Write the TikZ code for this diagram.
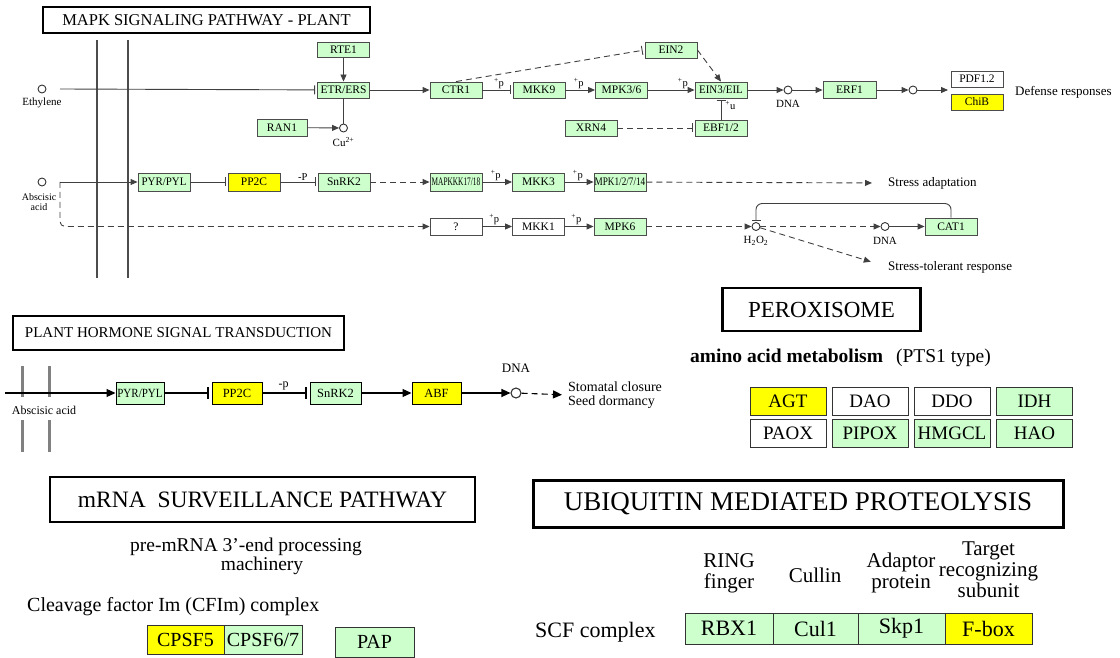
\documentclass[tikz,border=0pt]{standalone}
\usepackage{fontspec}
\setmainfont{Liberation Serif}
\usetikzlibrary{arrows.meta,calc}
\definecolor{kgreen}{HTML}{CCFFCC}
\definecolor{kyellow}{HTML}{FFFF00}
\newcommand{\kfs}[1]{\fontsize{#1}{#1}\selectfont}
\begin{document}
\begin{tikzpicture}[x=1pt,y=-1pt,
  ln/.style={draw=black!75, line width=0.9pt},
  arr/.style={ln, -{Triangle[length=7pt,width=6pt]}},
  inh/.style={ln, -{Bar[width=9pt,line width=0.9pt]}, shorten >=2pt},
  dln/.style={ln, dash pattern=on 6pt off 4pt},
  darr/.style={dln, -{Triangle[length=7pt,width=6pt]}},
  dinh/.style={dln, -{Bar[width=9pt,line width=0.9pt]}, shorten >=2pt},
  kb/.style={draw=black!70, line width=0.9pt, minimum width=52pt, minimum height=16pt, inner sep=0pt, font=\kfs{11.5}},
  kg/.style={kb, fill=kgreen},
  ky/.style={kb, fill=kyellow},
  kw/.style={kb, fill=white},
  circ/.style={circle, draw=black!80, line width=0.9pt, minimum size=8pt, inner sep=0pt},
  lbl/.style={font=\kfs{10.5}, inner sep=1pt},
  txt/.style={font=\kfs{11}, inner sep=0pt},
  side/.style={font=\kfs{13}, inner sep=0pt, anchor=west},
  ttl/.style={draw=black, line width=2pt, inner sep=0pt},
  pb/.style={draw=black, line width=1pt, minimum width=48pt, minimum height=22pt, inner sep=0pt, font=\kfs{12.5}},
  pln/.style={draw=black, line width=1.1pt},
  parr/.style={pln, -{Triangle[length=9pt,width=8pt]}},
  pinh/.style={pln, -{Bar[width=12pt,line width=1.1pt]}, shorten >=3pt},
  xb/.style={draw=black!80, line width=1pt, minimum width=76pt, minimum height=28pt, inner sep=0pt, font=\kfs{19}},
  ub/.style={draw=black!80, line width=1pt, minimum height=31pt, inner sep=0pt, font=\kfs{22}},
  hdr/.style={font=\kfs{21}, align=center, inner sep=0pt}
]
\useasboundingbox (0,0) rectangle (1120,658);

% ===== MAPK signaling pathway - plant =====
\node[ttl, minimum width=327pt, minimum height=26pt, font=\kfs{16.5}] (t1) at (206.5,20) {MAPK SIGNALING PATHWAY - PLANT};
\draw[line width=2.5pt, black!70] (97,40) -- (97,278);
\draw[line width=2.5pt, black!70] (128,40) -- (128,278);

\node[circ] (eth) at (42,89) {};
\node[txt] (ethl) at (42,103) {Ethylene};
\coordinate (eths) at (60,89);
\node[kg, minimum height=15pt] (rte) at (343.5,50) {RTE1};
\node[kg] (etr) at (343.5,90) {ETR/ERS};
\node[kg, minimum width=50pt, minimum height=17pt] (ran) at (282,127.5) {RAN1};
\node[circ] (cu) at (343.5,128) {};
\node[txt] (cul) at (343.5,142) {Cu\textsuperscript{2+}};
\node[kg] (ctr) at (456,90) {CTR1};
\node[kg] (mkk9) at (539,90) {MKK9};
\node[kg] (mpk36) at (621.5,90) {MPK3/6};
\node[kg] (ein3) at (721,90) {\scalebox{0.95}[1]{EIN3/EIL}};
\node[kg] (ein2) at (671,50) {EIN2};
\node[kg] (xrn4) at (591,128) {XRN4};
\node[kg] (ebf) at (721,128) {EBF1/2};
\node[circ] (dna1) at (788,90) {};
\node[txt] (dna1l) at (788,104) {DNA};
\node[kg, minimum width=53pt, minimum height=17pt] (erf) at (849.5,90) {ERF1};
\node[circ] (c2) at (913,90) {};
\node[kw] (pdf) at (977,79) {PDF1.2};
\node[ky] (chib) at (977,102) {ChiB};
\coordinate (tgt) at (948,90);
\node[side] (def) at (1015,92) {Defense responses};

\draw[inh] (eths) -- (etr);
\draw[arr] (rte) -- (etr);
\draw[arr] (etr) -- (ctr);
\draw[ln] (etr) -- (cu);
\draw[arr] (ran) -- (cu);
\draw[inh] (ctr) -- node[lbl, above, pos=0.55] {\textsuperscript{+}p} (mkk9);
\draw[arr] (mkk9) -- node[lbl, above, pos=0.45] {\textsuperscript{+}p} (mpk36);
\draw[arr] (mpk36) -- node[lbl, above, pos=0.75] {\textsuperscript{+}p} (ein3);
\draw[dinh] (ctr.north) -- (ein2.west);
\draw[darr] (ein2.east) -- (ein3.north);
\draw[dinh] (xrn4) -- (ebf);
\draw[inh] (ebf) -- node[lbl, right, pos=0.65, xshift=3pt] {\textsuperscript{+}u} (ein3);
\draw[arr] (ein3) -- (dna1);
\draw[arr] (dna1) -- (erf);
\draw[arr] (erf) -- (c2);
\draw[arr] (c2) -- (tgt);

% ABA rows
\node[circ] (aba) at (42,182) {};
\node[font=\kfs{10}, inner sep=0pt, align=center] (abal) at (39,202) {Abscisic\\acid};
\coordinate (abas) at (60,182);
\node[kg, minimum height=18pt] (pyr) at (164,182) {\scalebox{0.95}[1]{PYR/PYL}};
\node[ky, minimum height=18pt] (pp2c) at (254,182) {PP2C};
\node[kg, minimum height=18pt] (snrk) at (344,182) {SnRK2};
\node[kg, minimum height=18pt] (mkkk) at (456,182) {\scalebox{0.64}[1]{MAPKKK17/18}};
\node[kg, minimum height=18pt] (mkk3) at (538.5,182) {MKK3};
\node[kg, minimum height=18pt] (mpk1) at (620,182) {\scalebox{0.8}[1]{MPK1/2/7/14}};
\node[side] (sad) at (888,183) {Stress adaptation};
\node[kw, minimum height=17pt] (q) at (456,226.5) {?};
\node[kw, minimum height=17pt] (mkk1) at (538.5,226.5) {MKK1};
\node[kg, minimum height=17pt] (mpk6) at (620,226.5) {MPK6};
\node[circ] (h2o2) at (756,226.5) {};
\node[txt] (h2o2l) at (756,241) {H\textsubscript{2}O\textsubscript{2}};
\node[circ] (dna2) at (885,226.5) {};
\node[txt] (dna2l) at (885,241) {DNA};
\node[kg, minimum height=17pt] (cat1) at (951,226.5) {CAT1};
\node[side] (stl) at (888,267) {Stress-tolerant response};

\draw[arr] (abas) -- (pyr);
\draw[darr, rounded corners=5pt] (abas) |- (q);
\draw[inh] (pyr) -- (pp2c);
\draw[inh] (pp2c) -- node[lbl, above, pos=0.6] {-P} (snrk);
\draw[darr] (snrk) -- (mkkk);
\draw[arr] (mkkk) -- node[lbl, above, pos=0.45] {\textsuperscript{+}p} (mkk3);
\draw[arr] (mkk3) -- node[lbl, above, pos=0.45] {\textsuperscript{+}p} (mpk1);
\draw[darr, shorten >=16pt] (mpk1) -- (sad.west);
\draw[arr] (q) -- node[lbl, above, pos=0.4] {\textsuperscript{+}p} (mkk1);
\draw[arr] (mkk1) -- node[lbl, above, pos=0.4] {\textsuperscript{+}p} (mpk6);
\draw[darr] (mpk6) -- (h2o2);
\draw[darr] (h2o2) -- (dna2);
\draw[arr] (dna2) -- (cat1);
\draw[inh, rounded corners=6pt, shorten >=1pt] (cat1.north) -- ++(0,-14) -| (h2o2.north);
\draw[darr, shorten >=18pt] (h2o2) -- (stl.west);

% ===== Plant hormone signal transduction =====
\node[ttl, minimum width=331pt, minimum height=34pt, font=\kfs{15}] (t2) at (178.5,333) {PLANT HORMONE SIGNAL TRANSDUCTION};
\draw[line width=3pt, black!50] (22,366) -- (22,397);
\draw[line width=3pt, black!50] (49,366) -- (49,397);
\draw[line width=3pt, black!50] (22,420) -- (22,452);
\draw[line width=3pt, black!50] (49,420) -- (49,452);
\coordinate (abap) at (5,393);
\node[font=\kfs{12}, inner sep=0pt] (abapl) at (44,410) {Abscisic acid};
\node[pb, fill=kgreen] (pyr2) at (140,393) {\scalebox{0.88}[1]{PYR/PYL}};
\node[pb, fill=kyellow, minimum width=50pt] (pp2c2) at (237,393) {PP2C};
\node[pb, fill=kgreen, minimum width=51pt] (snrk2) at (335.5,393) {SnRK2};
\node[pb, fill=kyellow, minimum width=49pt] (abf) at (436.5,393) {ABF};
\node[circ, minimum size=10pt, line width=1.1pt] (dna3) at (516,393) {};
\node[font=\kfs{13}, inner sep=0pt] (dna3l) at (516,368) {DNA};
\node[font=\kfs{14}, inner sep=0pt, align=left, anchor=west] (stom) at (568,395) {Stomatal closure\\Seed dormancy};

\draw[parr] (abap) -- (pyr2);
\draw[pinh] (pyr2) -- (pp2c2);
\draw[pinh] (pp2c2) -- node[font=\kfs{12}, above, pos=0.45, inner sep=2pt] {-p} (snrk2);
\draw[parr] (snrk2) -- (abf);
\draw[parr] (abf) -- (dna3);
\draw[parr, dash pattern=on 6pt off 4pt, shorten >=6pt] (dna3) -- (stom.west);

% ===== Peroxisome =====
\node[ttl, line width=2.5pt, minimum width=198pt, minimum height=43pt, font=\kfs{23}] (t3) at (821.5,309.5) {PEROXISOME};
\node[font=\kfs{19.5}, anchor=west, inner sep=0pt] (aam) at (690,358) {\textbf{amino acid metabolism}\enspace\,(PTS1 type)};
\node[xb, fill=kyellow] (agt) at (788,401) {AGT};
\node[xb, fill=white] (dao) at (870,401) {DAO};
\node[xb, fill=white] (ddo) at (952,401) {DDO};
\node[xb, fill=kgreen] (idh) at (1034.5,401) {IDH};
\node[xb, fill=white] (paox) at (788,433) {PAOX};
\node[xb, fill=kgreen] (pipox) at (870,433) {PIPOX};
\node[xb, fill=kgreen] (hmgcl) at (952,433) {HMGCL};
\node[xb, fill=kgreen] (hao) at (1034.5,433) {HAO};

% ===== mRNA surveillance pathway =====
\node[ttl, line width=2.5pt, minimum width=425pt, minimum height=45pt, font=\kfs{23.5}] (t4) at (262.5,499.5) {mRNA\ \ SURVEILLANCE\ PATHWAY};
\node[font=\kfs{19.5}, inner sep=0pt] (pre1) at (246,547) {pre-mRNA 3{\char"0027}-end processing};
\node[font=\kfs{19.5}, inner sep=0pt] (pre2) at (262,566) {machinery};
\node[font=\kfs{20}, anchor=west, inner sep=0pt] (cfim) at (27,607) {Cleavage factor Im (CFIm) complex};
\node[xb, fill=kyellow, minimum width=77pt, minimum height=29pt, font=\kfs{20}] (cpsf5) at (185.5,639.5) {CPSF5};
\node[xb, fill=kgreen, minimum width=78pt, minimum height=29pt, font=\kfs{20}] (cpsf6) at (263,639.5) {CPSF6/7};
\node[xb, fill=kgreen, minimum width=79pt, minimum height=30pt, font=\kfs{20}] (pap) at (374.5,642) {PAP};

% ===== Ubiquitin mediated proteolysis =====
\node[ttl, line width=3pt, minimum width=530pt, minimum height=47pt, font=\kfs{27}] (t5) at (798,503.5) {UBIQUITIN\ MEDIATED\ PROTEOLYSIS};
\node[hdr] (h1) at (729,573) {RING\\finger};
\node[hdr] (h2) at (815,575) {Cullin};
\node[hdr] (h3) at (901,573) {Adaptor\\protein};
\node[hdr] (h4) at (988.5,570) {Target\\recognizing\\subunit};
\node[font=\kfs{22}, anchor=west, inner sep=0pt] (scf) at (535,632) {SCF complex};
\node[ub, fill=kgreen, minimum width=88pt] (rbx) at (729,628.5) {RBX1};
\node[ub, fill=kgreen, minimum width=85pt] (cul) at (815.5,628.5) {Cul1};
\node[ub, fill=kgreen, minimum width=87pt] (skp) at (901.5,628.5) {Skp1};
\node[ub, fill=kyellow, minimum width=87pt] (fbox) at (988.5,628.5) {F-box};
\end{tikzpicture}
\end{document}
